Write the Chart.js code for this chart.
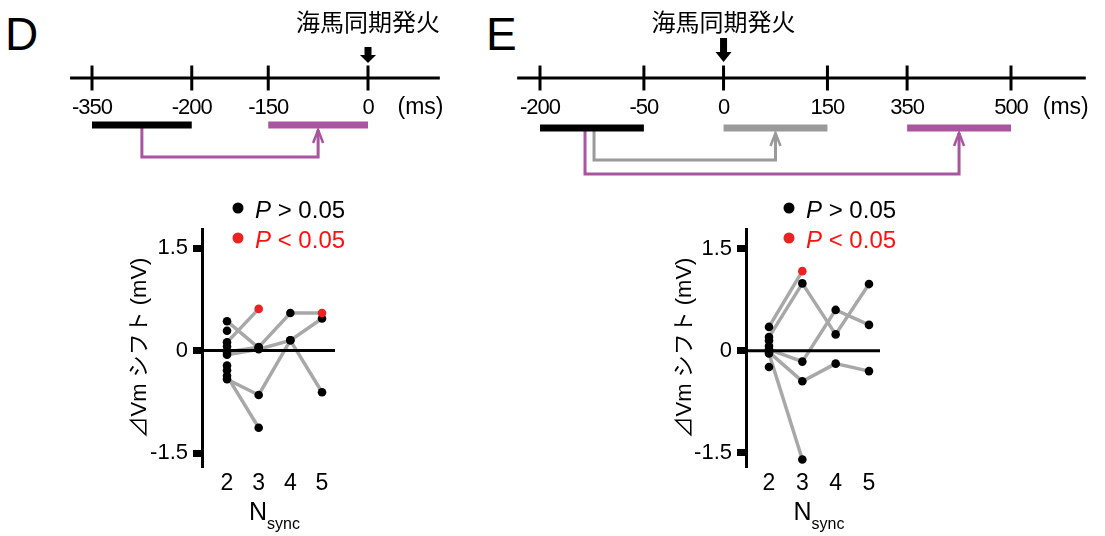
<!DOCTYPE html>
<html lang="ja">
<head>
<meta charset="utf-8">
<title>海馬同期発火と Vm シフト</title>
<script src="https://cdn.jsdelivr.net/npm/chart.js@4"></script>
<style>
    body { margin: 0; background: #fff; }
    #page { position: relative; width: 1105px; height: 536px; overflow: hidden; font-family: "Liberation Sans", Arial, sans-serif; }
    #page canvas, .panel { position: absolute; }
    .panel { top: 11px; font-size: 46px; line-height: 46px; color: #000; }
</style>
</head>
<body>
<div id="page">
    <div class="panel" style="left:5px">D</div>
    <div class="panel" style="left:486px">E</div>
    <canvas id="timeD" width="550" height="190" style="left:0;top:0"></canvas>
    <canvas id="timeE" width="625" height="190" style="left:480px;top:0"></canvas>
    <canvas id="shiftD" width="260" height="346" style="left:120px;top:190px"></canvas>
    <canvas id="shiftE" width="260" height="346" style="left:660px;top:190px"></canvas>
</div>

<script>
// ==============================
// Data
// ==============================

const nsync = [2, 3, 4, 5];
const yTicks = [-1.5, 0, 1.5];

// one trace per cell, Vm shift (mV) at Nsync = 2..5, null = no data
const dTraces = [
    [0.43, 0.04, null, null],
    [0.29, null, null, null],
    [0.12, 0.61, null, null],
    [0.06, null, null, null],
    [-0.02, 0.05, 0.55, 0.55],
    [-0.06, 0.02, 0.15, 0.47],
    [-0.22, null, null, null],
    [-0.29, null, null, null],
    [-0.37, -1.13, null, null],
    [-0.42, -0.65, 0.15, -0.61]
];
// [trace index, Nsync] with P < 0.05
const dSignificant = [[2, 3], [4, 5]];

const eTraces = [
    [0.35, 1.17, null, null],
    [0.2, 0.99, 0.24, 0.98],
    [0.15, null, null, null],
    [0.07, null, null, null],
    [0.02, -0.16, 0.6, 0.38],
    [-0.02, -0.45, -0.19, -0.3],
    [-0.04, -1.6, null, null],
    [-0.24, null, null, null]
];
const eSignificant = [[0, 3]];

// timelines (ms)
const dTimeTicks = [-350, -200, -150, 0];
const dBaseline = [-350, -200];
const dWindows = [[-150, 0]];
const dLinkFrom = [-275];

const eTimeTicks = [-200, -50, 0, 150, 350, 500];
const eBaseline = [-200, -50];
const eWindows = [[0, 150], [350, 500]];
const eLinkFrom = [-122, -135];

// ==============================
// Styles
// ==============================

const FONT = '"Liberation Sans", Arial, "Noto Sans CJK JP", sans-serif';
const PURPLE = "#A9559F";
const GRAY_BAR = "#9A9A9A";
const TRACE_GRAY = "#A8A8A8";
const RED_DOT = "#EC2222";
const RED_TEXT = "#FF1010";
const GAP = 115;   // width of an axis break, in ms-equivalent

Chart.defaults.font.family = FONT;
Chart.defaults.color = "#000";

// broken time axis: each segment keeps its ms width, breaks get GAP
function brokenAxis(segments) {
    return ms => {
        let offset = 0;
        for (let i = 0; i < segments.length; i++) {
            const [a, b] = segments[i];
            if (ms <= b || i === segments.length - 1) return offset + (ms - a);
            offset += (b - a) + GAP;
        }
    };
}

// ==============================
// Timeline
// ==============================

function drawTimeline(id, o) {

    const canvas = document.getElementById(id);
    const pos = brokenAxis([o.baseline].concat(o.windows));
    const first = pos(o.ticks[0]);
    const last = pos(o.ticks[o.ticks.length - 1]);
    const k = (o.lastPx - o.firstPx) / (last - first);
    const xMin = first - o.firstPx / k;
    const xMax = xMin + canvas.width / k;

    const AXIS_Y = 78;
    const LABEL_Y = 108;

    const datasets = [];

    datasets.push({
        data: [{ x: first - 33, y: AXIS_Y }, { x: last + 108, y: AXIS_Y }],
        showLine: true, borderColor: "#000", borderWidth: 3, pointRadius: 0
    });

    datasets.push({
        data: o.ticks.map(t => ({ x: pos(t), y: AXIS_Y })),
        pointStyle: "line", rotation: 90, pointRadius: 12.5,
        pointBorderWidth: 3, pointBorderColor: "#000"
    });

    const bars = [{ range: o.baseline, color: "#000" }]
        .concat(o.windows.map((w, i) => ({ range: w, color: o.colors[i] })));

    bars.forEach(b => datasets.push({
        data: b.range.map(t => ({ x: pos(t), y: o.barY })),
        showLine: true, borderColor: b.color, borderWidth: 7, pointRadius: 0
    }));

    o.linkFrom.forEach((from, i) => {
        const to = (o.windows[i][0] + o.windows[i][1]) / 2;
        datasets.push({
            data: [
                { x: pos(from), y: o.barY },
                { x: pos(from), y: o.linkY[i] },
                { x: pos(to), y: o.linkY[i] },
                { x: pos(to), y: o.barY + 5 }
            ],
            showLine: true, borderColor: o.colors[i], borderWidth: 3,
            pointRadius: 0, borderJoinStyle: "miter"
        });
    });

    const marks = {
        id: "timelineMarks",
        afterDatasetsDraw(chart) {
            const { ctx, scales: { x, y } } = chart;
            ctx.save();

            // tick labels
            ctx.fillStyle = "#000";
            ctx.font = "22px " + FONT;
            ctx.letterSpacing = "-1px";
            ctx.textAlign = "center";
            ctx.textBaseline = "middle";
            o.ticks.forEach(t => ctx.fillText(String(t), x.getPixelForValue(pos(t)), y.getPixelForValue(LABEL_Y)));
            ctx.letterSpacing = "0px";
            ctx.font = "23px " + FONT;
            ctx.fillText("(ms)", x.getPixelForValue(last + 79), y.getPixelForValue(LABEL_Y));

            // onset label + arrow
            const ox = x.getPixelForValue(pos(0));
            ctx.font = '24px "Noto Sans CJK JP"';
            ctx.fillText("海馬同期発火", ox, y.getPixelForValue(22));

            const top = y.getPixelForValue(o.arrow[0]);
            const neck = y.getPixelForValue(o.arrow[1]);
            const tip = y.getPixelForValue(o.arrow[2]);
            ctx.beginPath();
            ctx.moveTo(ox - 3.5, top);
            ctx.lineTo(ox + 3.5, top);
            ctx.lineTo(ox + 3.5, neck);
            ctx.lineTo(ox + 8, neck);
            ctx.lineTo(ox, tip);
            ctx.lineTo(ox - 8, neck);
            ctx.lineTo(ox - 3.5, neck);
            ctx.closePath();
            ctx.fill();

            // open arrow heads on the links
            o.linkFrom.forEach((from, i) => {
                const to = (o.windows[i][0] + o.windows[i][1]) / 2;
                const ax = x.getPixelForValue(pos(to));
                const ay = y.getPixelForValue(o.barY + 5);
                ctx.strokeStyle = o.colors[i];
                ctx.lineWidth = 2.5;
                ctx.beginPath();
                ctx.moveTo(ax - 5, ay + 13);
                ctx.lineTo(ax, ay);
                ctx.lineTo(ax + 5, ay + 13);
                ctx.stroke();
            });

            ctx.restore();
        }
    };

    new Chart(canvas, {
        type: "scatter",
        data: { datasets: datasets },
        options: {
            responsive: false,
            animation: false,
            events: [],
            layout: { padding: 0, autoPadding: false },
            plugins: { legend: { display: false }, tooltip: { enabled: false } },
            scales: {
                x: { type: "linear", display: false, min: xMin, max: xMax },
                y: { type: "linear", display: false, min: 0, max: canvas.height, reverse: true }
            }
        },
        plugins: [marks]
    });
}

// ==============================
// Vm shift vs Nsync
// ==============================

function drawShift(id, traces, significant, o) {

    const lines = [];
    const black = [];
    const red = [];

    traces.forEach((trace, ti) => {
        const pts = [];
        trace.forEach((v, i) => {
            if (v === null) return;
            const p = { x: nsync[i], y: v };
            pts.push(p);
            const sig = significant.some(s => s[0] === ti && s[1] === nsync[i]);
            (sig ? red : black).push(p);
        });
        if (pts.length > 1) lines.push(pts);
    });

    const legendAndTitle = {
        id: "pLegend",
        afterDraw(chart) {
            const { ctx, chartArea, scales: { x } } = chart;
            ctx.save();

            const rows = [
                { dot: "#000", text: "#000", rel: " > 0.05" },
                { dot: RED_DOT, text: RED_TEXT, rel: " < 0.05" }
            ];
            rows.forEach((r, i) => {
                const cx = chartArea.left + o.legendX;
                const cy = chartArea.top - 21 + i * 30;
                ctx.fillStyle = r.dot;
                ctx.beginPath();
                ctx.arc(cx, cy, 5.5, 0, Math.PI * 2);
                ctx.fill();
                ctx.fillStyle = r.text;
                ctx.textAlign = "left";
                ctx.textBaseline = "alphabetic";
                ctx.font = "italic 24px " + FONT;
                ctx.fillText("P", cx + 17, cy + 10);
                const w = ctx.measureText("P").width;
                ctx.font = "24px " + FONT;
                ctx.fillText(r.rel, cx + 17 + w, cy + 10);
            });

            // N with subscript "sync"
            ctx.fillStyle = "#000";
            ctx.font = "25px " + FONT;
            const wN = ctx.measureText("N").width;
            ctx.font = "16px " + FONT;
            const wS = ctx.measureText("sync").width;
            const start = x.getPixelForValue(3.5) - (wN + wS) / 2;
            ctx.font = "25px " + FONT;
            ctx.fillText("N", start, chartArea.bottom + 53);
            ctx.font = "16px " + FONT;
            ctx.fillText("sync", start + wN, chartArea.bottom + 62);

            ctx.restore();
        }
    };

    new Chart(document.getElementById(id), {
        type: "scatter",
        data: {
            datasets: [
                { data: red, pointRadius: 4.3, pointBackgroundColor: RED_DOT, pointBorderColor: RED_DOT, pointBorderWidth: 0, order: 0 },
                { data: black, pointRadius: 4.3, pointBackgroundColor: "#000", pointBorderColor: "#000", pointBorderWidth: 0, order: 1 },
                {
                    data: [{ x: o.xMin, y: 0 }, { x: o.xMax, y: 0 }],
                    showLine: true, borderColor: "#000", borderWidth: 3, pointRadius: 0, order: 2
                },
                ...lines.map(pts => ({
                    data: pts, showLine: true, borderColor: TRACE_GRAY,
                    borderWidth: 3.5, pointRadius: 0, order: 3
                }))
            ]
        },
        options: {
            responsive: false,
            animation: false,
            events: [],
            layout: { padding: { top: 39, right: o.padRight, bottom: 0, left: 0 } },
            plugins: { legend: { display: false }, tooltip: { enabled: false } },
            scales: {
                x: {
                    type: "linear",
                    min: o.xMin,
                    max: o.xMax,
                    afterBuildTicks: s => { s.ticks = nsync.map(v => ({ value: v })); },
                    afterFit: s => { s.height = 69; },
                    border: { display: false },
                    grid: { display: false, drawTicks: false },
                    ticks: { font: { size: 23 }, padding: 3, autoSkip: false, maxRotation: 0 }
                },
                y: {
                    type: "linear",
                    min: o.yMin,
                    max: o.yMax,
                    afterBuildTicks: s => { s.ticks = yTicks.map(v => ({ value: v })); },
                    afterFit: s => { s.width = o.yWidth; },
                    border: { display: true, color: "#000", width: 3 },
                    grid: {
                        drawOnChartArea: false, drawTicks: true,
                        tickLength: 9, tickWidth: 7, tickColor: "#000", color: "#000"
                    },
                    ticks: { font: { size: 22 }, padding: 5, callback: v => String(v) },
                    title: {
                        display: true,
                        text: "⊿Vm シフト (mV)",
                        font: { size: 22 },
                        padding: { top: o.titlePad, bottom: 0 }
                    }
                }
            }
        },
        plugins: [legendAndTitle]
    });
}

// ==============================
// Draw
// ==============================

drawTimeline("timeD", {
    ticks: dTimeTicks, baseline: dBaseline, windows: dWindows, linkFrom: dLinkFrom,
    colors: [PURPLE], firstPx: 92, lastPx: 368,
    barY: 125, linkY: [157], arrow: [47, 55, 63]
});

drawTimeline("timeE", {
    ticks: eTimeTicks, baseline: eBaseline, windows: eWindows, linkFrom: eLinkFrom,
    colors: [GRAY_BAR, PURPLE], firstPx: 60, lastPx: 531,
    barY: 128, linkY: [160, 174], arrow: [38, 52, 62]
});

drawShift("shiftD", dTraces, dSignificant, {
    xMin: 1.21, xMax: 5.41, yMin: -1.705, yMax: 1.78,
    yWidth: 82, padRight: 45, titlePad: 7, legendX: 36
});

drawShift("shiftE", eTraces, eSignificant, {
    xMin: 1.31, xMax: 5.33, yMin: -1.71, yMax: 1.79,
    yWidth: 86, padRight: 40, titlePad: 12, legendX: 43
});
</script>
</body>
</html>
